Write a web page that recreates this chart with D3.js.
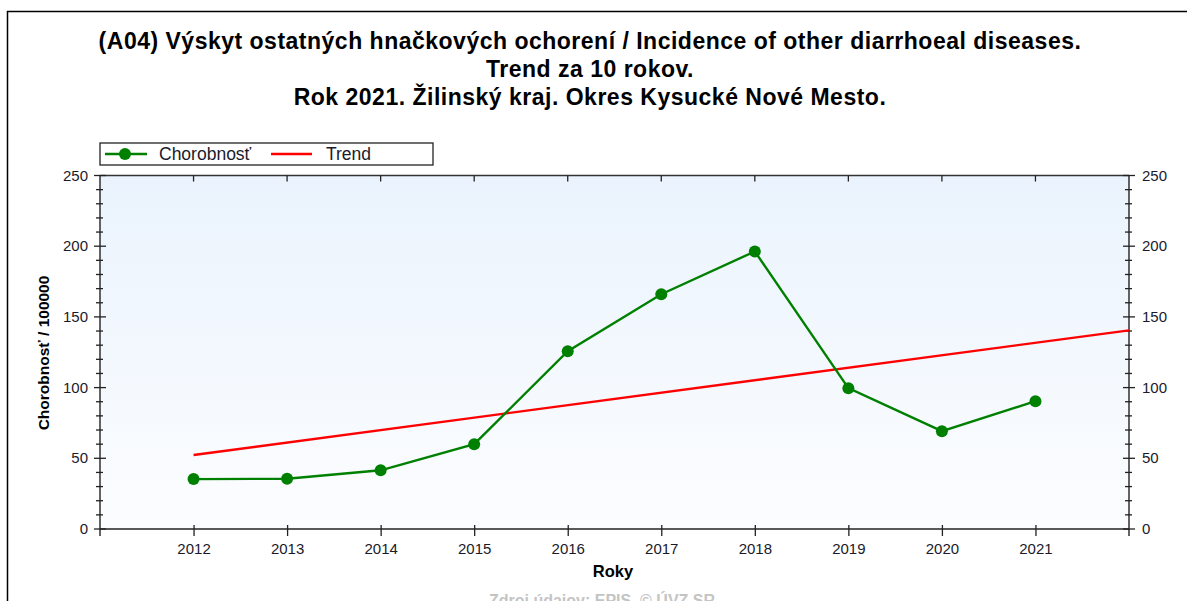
<!DOCTYPE html>
<html>
<head>
<meta charset="utf-8">
<script src="https://cdn.jsdelivr.net/npm/d3@7"></script>
<style>
  body { margin: 0; background: #fff; }
  svg { display: block; font-family: "Liberation Sans", Arial, sans-serif; }
</style>
</head>
<body>
<svg id="chart" width="1187" height="601"></svg>
<script>
// data
let years = [2012, 2013, 2014, 2015, 2016, 2017, 2018, 2019, 2020, 2021];
let incidence = [35.3, 35.5, 41.5, 60, 125.7, 166, 196.3, 99.6, 69.2, 90.4];
let trendYears = [2012, 2022];
let trendValues = [52.3, 140.5];
let yTicks = [0, 50, 100, 150, 200, 250];
let titleLines = [
  "(A04) Výskyt ostatných hnačkových ochorení / Incidence of other diarrhoeal diseases.",
  "Trend za 10 rokov.",
  "Rok 2021. Žilinský kraj. Okres Kysucké Nové Mesto."
];

(function() {

  let plotLeft = 100, plotRight = 1129, plotTop = 175.5, plotBottom = 529;
  let axisColor = "#222";
  let labelColor = "#1a1a2a";

  let svg = d3.select("#chart");

  // outer frame
  svg.append("rect")
     .attr("x", 7.5).attr("y", 11.5)
     .attr("width", 1200).attr("height", 620)
     .attr("fill", "none")
     .attr("stroke", "#000")
     .attr("stroke-width", 1.5);

  // title
  svg.append("g").selectAll("text")
     .data(titleLines)
     .enter()
     .append("text")
     .attr("x", 590)
     .attr("y", (d, i) => 49 + i * 28)
     .attr("text-anchor", "middle")
     .attr("font-size", "23px")
     .attr("font-weight", "bold")
     .attr("letter-spacing", "0.5px")
     .text(d => d);

  // scales
  let xScale = d3.scaleLinear().domain([2011, 2022]).range([plotLeft, plotRight]);
  let yScale = d3.scaleLinear().domain([0, 250]).range([plotBottom, plotTop]);

  // plot background gradient
  let grad = svg.append("defs").append("linearGradient")
     .attr("id", "bg").attr("x1", 0).attr("y1", 0).attr("x2", 0).attr("y2", 1);
  grad.append("stop").attr("offset", "0%").attr("stop-color", "#eaf3fd");
  grad.append("stop").attr("offset", "100%").attr("stop-color", "#fcfdff");

  svg.append("rect")
     .attr("x", plotLeft).attr("y", plotTop)
     .attr("width", plotRight - plotLeft).attr("height", plotBottom - plotTop)
     .attr("fill", "url(#bg)");

  // top frame line
  svg.append("line")
     .attr("x1", plotLeft).attr("x2", plotRight)
     .attr("y1", plotTop).attr("y2", plotTop)
     .attr("stroke", "#333").attr("stroke-width", 1.3);

  // x axis (bottom)
  let xAxis = d3.axisBottom(xScale)
                .tickValues(years)
                .tickFormat(d3.format("d"))
                .tickSize(7)
                .tickPadding(7);
  let gx = svg.append("g")
     .attr("transform", "translate(0," + plotBottom + ")")
     .call(xAxis);
  gx.select(".domain").attr("d", "M" + plotLeft + ",0H" + plotRight)
    .attr("stroke", axisColor).attr("stroke-width", 1.4);
  gx.selectAll(".tick line").attr("y1", -4).attr("stroke", axisColor).attr("stroke-width", 1.3);
  gx.selectAll(".tick text").attr("font-size", "15px").attr("fill", labelColor)
    .attr("font-family", "Liberation Sans, Arial, sans-serif");

  // x ticks on top frame
  svg.append("g").selectAll("line")
     .data(years)
     .enter()
     .append("line")
     .attr("x1", d => xScale(d)).attr("x2", d => xScale(d))
     .attr("y1", plotTop).attr("y2", plotTop + 6)
     .attr("stroke", axisColor).attr("stroke-width", 1.3);

  // y axes: left and right, with minor ticks
  function drawYAxis(x, side) {
    let g = svg.append("g");
    g.append("line")
     .attr("x1", x).attr("x2", x)
     .attr("y1", plotTop).attr("y2", plotBottom + 7)
     .attr("stroke", axisColor).attr("stroke-width", 1.4);
    let minor = yScale.ticks(25).filter(v => v % 50 !== 0);
    g.selectAll(".minor")
     .data(minor)
     .enter()
     .append("line")
     .attr("x1", x - 4).attr("x2", x + 3)
     .attr("y1", d => yScale(d)).attr("y2", d => yScale(d))
     .attr("stroke", axisColor).attr("stroke-width", 1.3);
    g.selectAll(".major")
     .data(yTicks)
     .enter()
     .append("line")
     .attr("x1", x - 6).attr("x2", x + 6)
     .attr("y1", d => yScale(d)).attr("y2", d => yScale(d))
     .attr("stroke", axisColor).attr("stroke-width", 1.3);
    g.selectAll("text")
     .data(yTicks)
     .enter()
     .append("text")
     .attr("x", side === "left" ? x - 12 : x + 13)
     .attr("y", d => yScale(d) + 5)
     .attr("text-anchor", side === "left" ? "end" : "start")
     .attr("font-size", "15px")
     .attr("fill", labelColor)
     .text(d => d);
  }
  drawYAxis(plotLeft, "left");
  drawYAxis(plotRight, "right");

  // trend line
  svg.append("path")
     .datum(trendYears.map((y, i) => [y, trendValues[i]]))
     .attr("fill", "none")
     .attr("stroke", "#ff0000")
     .attr("stroke-width", 2.4)
     .attr("d", d3.line().x(d => xScale(d[0])).y(d => yScale(d[1])));

  // incidence line + markers
  let pts = years.map((y, i) => [y, incidence[i]]);
  svg.append("path")
     .datum(pts)
     .attr("fill", "none")
     .attr("stroke", "#008000")
     .attr("stroke-width", 2.4)
     .attr("d", d3.line().x(d => xScale(d[0])).y(d => yScale(d[1])));
  svg.append("g").selectAll("circle")
     .data(pts)
     .enter()
     .append("circle")
     .attr("cx", d => xScale(d[0]))
     .attr("cy", d => yScale(d[1]))
     .attr("r", 6)
     .attr("fill", "#008000");

  // axis titles
  svg.append("text")
     .attr("transform", "translate(49,353) rotate(-90)")
     .attr("text-anchor", "middle")
     .attr("font-size", "15.5px")
     .attr("font-weight", "bold")
     .text("Chorobnosť / 100000");
  svg.append("text")
     .attr("x", 613).attr("y", 577)
     .attr("text-anchor", "middle")
     .attr("font-size", "16.5px")
     .attr("font-weight", "bold")
     .text("Roky");
  svg.append("text")
     .attr("x", 602).attr("y", 606)
     .attr("text-anchor", "middle")
     .attr("font-size", "16px")
     .attr("font-weight", "bold")
     .attr("fill", "#c4c4c4")
     .text("Zdroj údajov: EPIS, © ÚVZ SR");

  // legend
  let lg = svg.append("g");
  lg.append("rect")
    .attr("x", 100).attr("y", 143)
    .attr("width", 333).attr("height", 22)
    .attr("fill", "#fff")
    .attr("stroke", axisColor).attr("stroke-width", 1.3);
  lg.append("line")
    .attr("x1", 105).attr("x2", 147).attr("y1", 154).attr("y2", 154)
    .attr("stroke", "#008000").attr("stroke-width", 2.6);
  lg.append("circle")
    .attr("cx", 125).attr("cy", 154).attr("r", 6)
    .attr("fill", "#008000");
  lg.append("text")
    .attr("x", 159).attr("y", 160)
    .attr("font-size", "17.5px")
    .attr("fill", labelColor)
    .text("Chorobnosť");
  lg.append("line")
    .attr("x1", 271).attr("x2", 312).attr("y1", 154).attr("y2", 154)
    .attr("stroke", "#ff0000").attr("stroke-width", 2.6);
  lg.append("text")
    .attr("x", 326).attr("y", 160)
    .attr("font-size", "17.5px")
    .attr("fill", labelColor)
    .text("Trend");

})();
</script>
</body>
</html>
